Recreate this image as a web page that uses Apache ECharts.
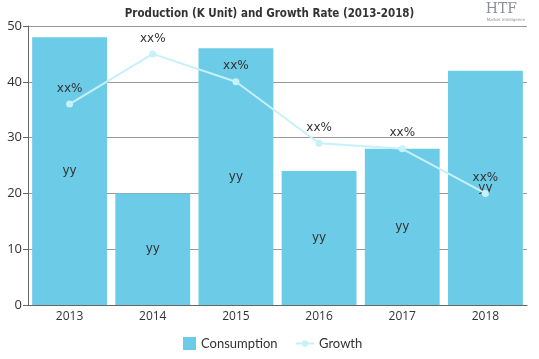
<!DOCTYPE html>
<html><head><meta charset="utf-8">
<script src="https://cdn.jsdelivr.net/npm/echarts@6/dist/echarts.min.js"></script>
<style>html,body{margin:0;padding:0;background:#fff}#c{width:539px;height:359px}</style>
</head><body><div id="c"></div>
<script>
const categories = ['2013','2014','2015','2016','2017','2018'];
const consumption = [48, 20, 46, 24, 28, 42];
const growth = [36, 45, 40, 29, 28, 20];
const yTicks = [0, 10, 20, 30, 40, 50];

const chart = echarts.init(document.getElementById('c'));
chart.setOption({
  animation: false,
  title: {
    text: 'Production (K Unit) and Growth Rate (2013-2018)',
    left: 'center', top: 3,
    textStyle: {fontFamily: 'DejaVu Sans Condensed', fontWeight: 'bold', fontSize: 11.5, color: '#333'}
  },
  graphic: [{
    type: 'text', right: 22, top: 2,
    style: {text: 'HTF', fontFamily: 'DejaVu Serif', fontSize: 14, fill: '#8a8f99'}
  }, {
    type: 'text', right: 14, top: 18,
    style: {text: 'Market Intelligence', fontFamily: 'DejaVu Sans', fontSize: 4, fill: '#8a8f99'}
  }],
  legend: [{
    bottom: 4, left: 178, itemWidth: 13, itemHeight: 13,
    textStyle: {fontFamily: 'Lato', fontSize: 13, color: '#333'},
    data: [{name: 'Consumption', icon: 'rect'}]
  }, {
    bottom: 4, left: 290, itemWidth: 18, itemHeight: 8,
    textStyle: {fontFamily: 'Lato', fontSize: 13, color: '#333'},
    data: [{name: 'Growth'}]
  }],
  grid: {left: 28, right: 12, top: 26, bottom: 54},
  xAxis: {
    type: 'category', data: categories,
    axisLine: {lineStyle: {color: '#666'}},
    axisTick: {alignWithLabel: true, lineStyle: {color: '#666'}},
    axisLabel: {fontFamily: 'Open Sans', fontSize: 12, color: '#333', margin: 6}
  },
  yAxis: {
    type: 'value', min: 0, max: 50, interval: 10,
    axisLine: {show: true, lineStyle: {color: '#666'}},
    axisTick: {show: true, lineStyle: {color: '#666'}},
    axisLabel: {fontFamily: 'Open Sans', fontSize: 13, color: '#333', margin: 6,
      customValues: yTicks},
    splitLine: {lineStyle: {color: '#999'}}
  },
  series: [{
    name: 'Consumption', type: 'bar', data: consumption,
    barCategoryGap: '10%',
    itemStyle: {color: '#6ccbe6'},
    label: {show: true, position: 'inside', formatter: 'yy', color: '#333', fontFamily: 'DejaVu Sans', fontSize: 12}
  }, {
    name: 'Growth', type: 'line', data: growth,
    symbol: 'circle', symbolSize: 7,
    lineStyle: {color: '#c6f1f8', width: 2},
    itemStyle: {color: '#c6f1f8'},
    label: {show: true, position: 'top', formatter: 'xx%', color: '#333', fontFamily: 'DejaVu Sans', fontSize: 12, distance: 6}
  }]
});
</script></body></html>
